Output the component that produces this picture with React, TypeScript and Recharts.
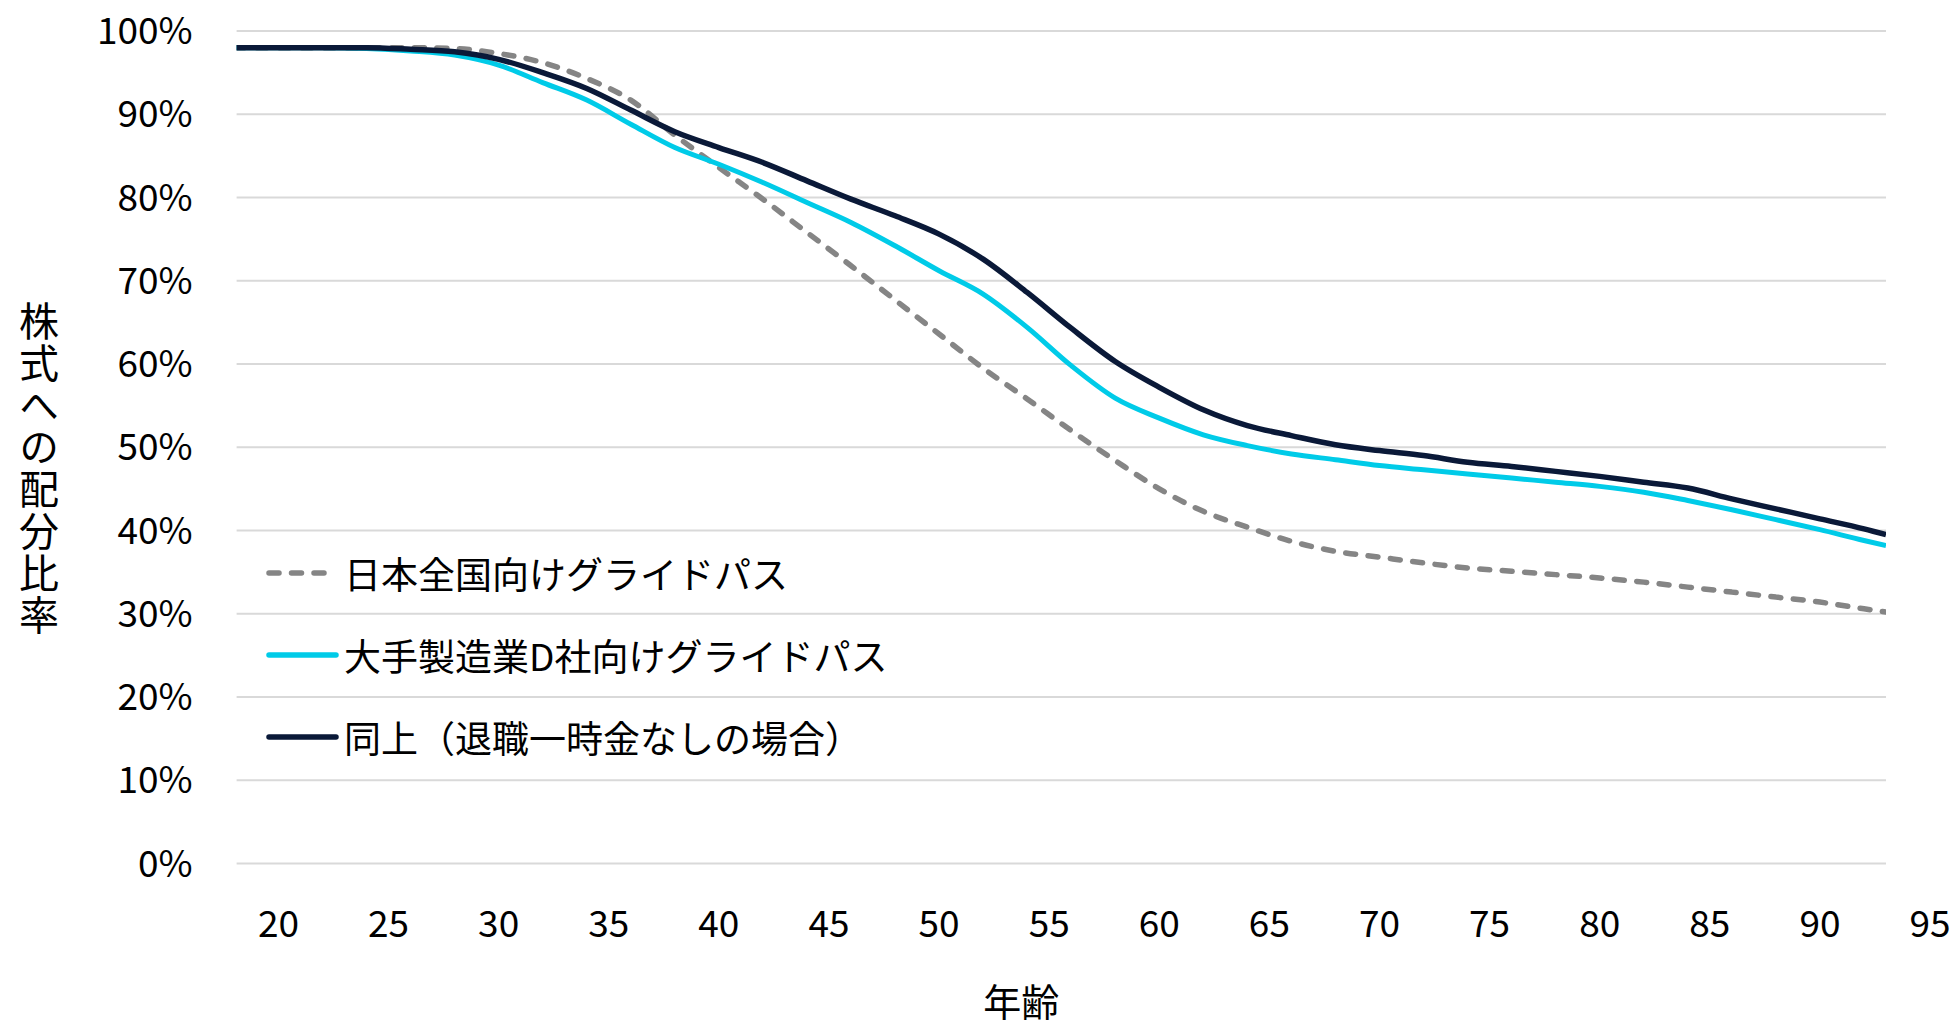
import React from 'react';
import { LineChart, Line, XAxis, YAxis, CartesianGrid, Legend } from 'recharts';

const ages = [18, 20, 22, 24, 26, 28, 30, 32, 34, 36, 38, 40, 42, 44, 46, 48, 50, 52, 54, 56, 58, 60, 62, 64, 66, 68, 70, 72, 74, 76, 78, 80, 82, 84, 86, 88, 90, 92, 93];

// 日本全国向けグライドパス
const nationalPath = [98.0, 98.0, 98.0, 98.0, 98.0, 97.9, 97.3, 96.2, 94.3, 91.7, 87.5, 83.6, 79.8, 75.8, 71.8, 67.7, 63.6, 59.5, 55.8, 52.0, 48.4, 45.0, 42.3, 40.4, 38.7, 37.5, 36.8, 36.1, 35.5, 35.1, 34.7, 34.3, 33.8, 33.2, 32.6, 32.0, 31.4, 30.6, 30.2];
// 大手製造業D社向けグライドパス
const companyPath = [98.0, 98.0, 98.0, 97.9, 97.6, 97.1, 95.9, 93.8, 91.7, 88.8, 86.0, 84.0, 81.8, 79.4, 77.0, 74.2, 71.2, 68.4, 64.4, 59.8, 55.9, 53.5, 51.5, 50.2, 49.2, 48.5, 47.8, 47.3, 46.8, 46.3, 45.8, 45.3, 44.6, 43.6, 42.5, 41.3, 40.1, 38.8, 38.2];
// 同上（退職一時金なしの場合）
const noLumpSumPath = [98.0, 98.0, 98.0, 98.0, 97.8, 97.5, 96.6, 95.0, 93.1, 90.5, 87.9, 86.0, 84.2, 82.0, 79.8, 77.8, 75.6, 72.6, 68.6, 64.3, 60.3, 57.2, 54.5, 52.6, 51.4, 50.3, 49.6, 49.0, 48.2, 47.7, 47.1, 46.5, 45.8, 45.1, 43.8, 42.6, 41.4, 40.2, 39.5];

const xTicks = [20, 25, 30, 35, 40, 45, 50, 55, 60, 65, 70, 75, 80, 85, 90, 95];
const yTicks = [0, 10, 20, 30, 40, 50, 60, 70, 80, 90, 100];

const seriesNames = ['日本全国向けグライドパス', '大手製造業D社向けグライドパス', '同上（退職一時金なしの場合）'];

const data = ages.map((age, i) => ({
  age,
  national: nationalPath[i],
  company: companyPath[i],
  noLumpSum: noLumpSumPath[i],
}));

const FONT = "'Noto Sans CJK JP', 'Noto Sans', sans-serif";
const GRAY = '#858585';
const CYAN = '#00cbe8';
const NAVY = '#0a1938';

const legendItems = [
  { name: seriesNames[0], color: GRAY, dash: '10 12.5' },
  { name: seriesNames[1], color: CYAN, dash: undefined },
  { name: seriesNames[2], color: NAVY, dash: undefined },
];

const GlideLegend = () => (
  <div style={{ fontFamily: FONT, textAlign: 'left' }}>
    {legendItems.map(item => (
      <div key={item.name} style={{ display: 'flex', alignItems: 'center', height: 82 }}>
        <svg width={74} height={10} style={{ marginRight: 4 }}>
          <line
            x1={3}
            y1={5}
            x2={item.dash ? 68 : 70}
            y2={5}
            stroke={item.color}
            strokeWidth={5.5}
            strokeLinecap="round"
            strokeDasharray={item.dash}
          />
        </svg>
        <span style={{ fontSize: 37, color: '#000', whiteSpace: 'nowrap' }}>{item.name}</span>
      </div>
    ))}
  </div>
);

export default function App() {
  return (
    <div style={{ position: 'absolute', left: 0, top: 0, width: 1952, height: 1020, background: '#fff', overflow: 'hidden' }}>
      <LineChart
        width={1952}
        height={1020}
        data={data}
        margin={{ top: 31, right: 66, left: 0, bottom: 56.5 }}
        style={{ fontFamily: FONT }}
      >
        <CartesianGrid vertical={false} stroke="#d9d9d9" strokeWidth={2} />
        <XAxis
          dataKey="age"
          type="number"
          domain={[18.1, 93]}
          allowDataOverflow
          ticks={xTicks}
          interval={0}
          height={100}
          axisLine={false}
          tickLine={false}
          tickSize={0}
          tickMargin={47}
          tick={{ fontSize: 37, fill: '#000', fontFamily: FONT }}
          label={{ value: '年齢', position: 'insideBottom', offset: -52, dx: -40, fontSize: 38, fill: '#000', fontFamily: FONT }}
        />
        <YAxis
          type="number"
          domain={[0, 100]}
          ticks={yTicks}
          interval={0}
          width={236.6}
          axisLine={false}
          tickLine={false}
          tickSize={0}
          tickMargin={44}
          tickFormatter={(v: number) => `${v}%`}
          tick={{ fontSize: 37, fill: '#000', fontFamily: FONT }}
        />
        <Legend
          layout="horizontal"
          verticalAlign="middle"
          align="center"
          content={<GlideLegend />}
          wrapperStyle={{ left: 266, top: 532, width: 700 }}
        />
        <Line
          type="monotone"
          dataKey="national"
          name={seriesNames[0]}
          stroke={GRAY}
          strokeWidth={5.5}
          strokeDasharray="10 12.5"
          strokeLinecap="round"
          dot={false}
          isAnimationActive={false}
        />
        <Line
          type="monotone"
          dataKey="company"
          name={seriesNames[1]}
          stroke={CYAN}
          strokeWidth={5}
          dot={false}
          isAnimationActive={false}
        />
        <Line
          type="monotone"
          dataKey="noLumpSum"
          name={seriesNames[2]}
          stroke={NAVY}
          strokeWidth={5.5}
          dot={false}
          isAnimationActive={false}
        />
      </LineChart>
      <div
        style={{
          position: 'absolute',
          left: 19,
          top: 301,
          writingMode: 'vertical-rl',
          fontFamily: FONT,
          fontSize: 40,
          lineHeight: '40px',
          letterSpacing: 2,
          color: '#000',
        }}
      >
        株式への配分比率
      </div>
    </div>
  );
}
